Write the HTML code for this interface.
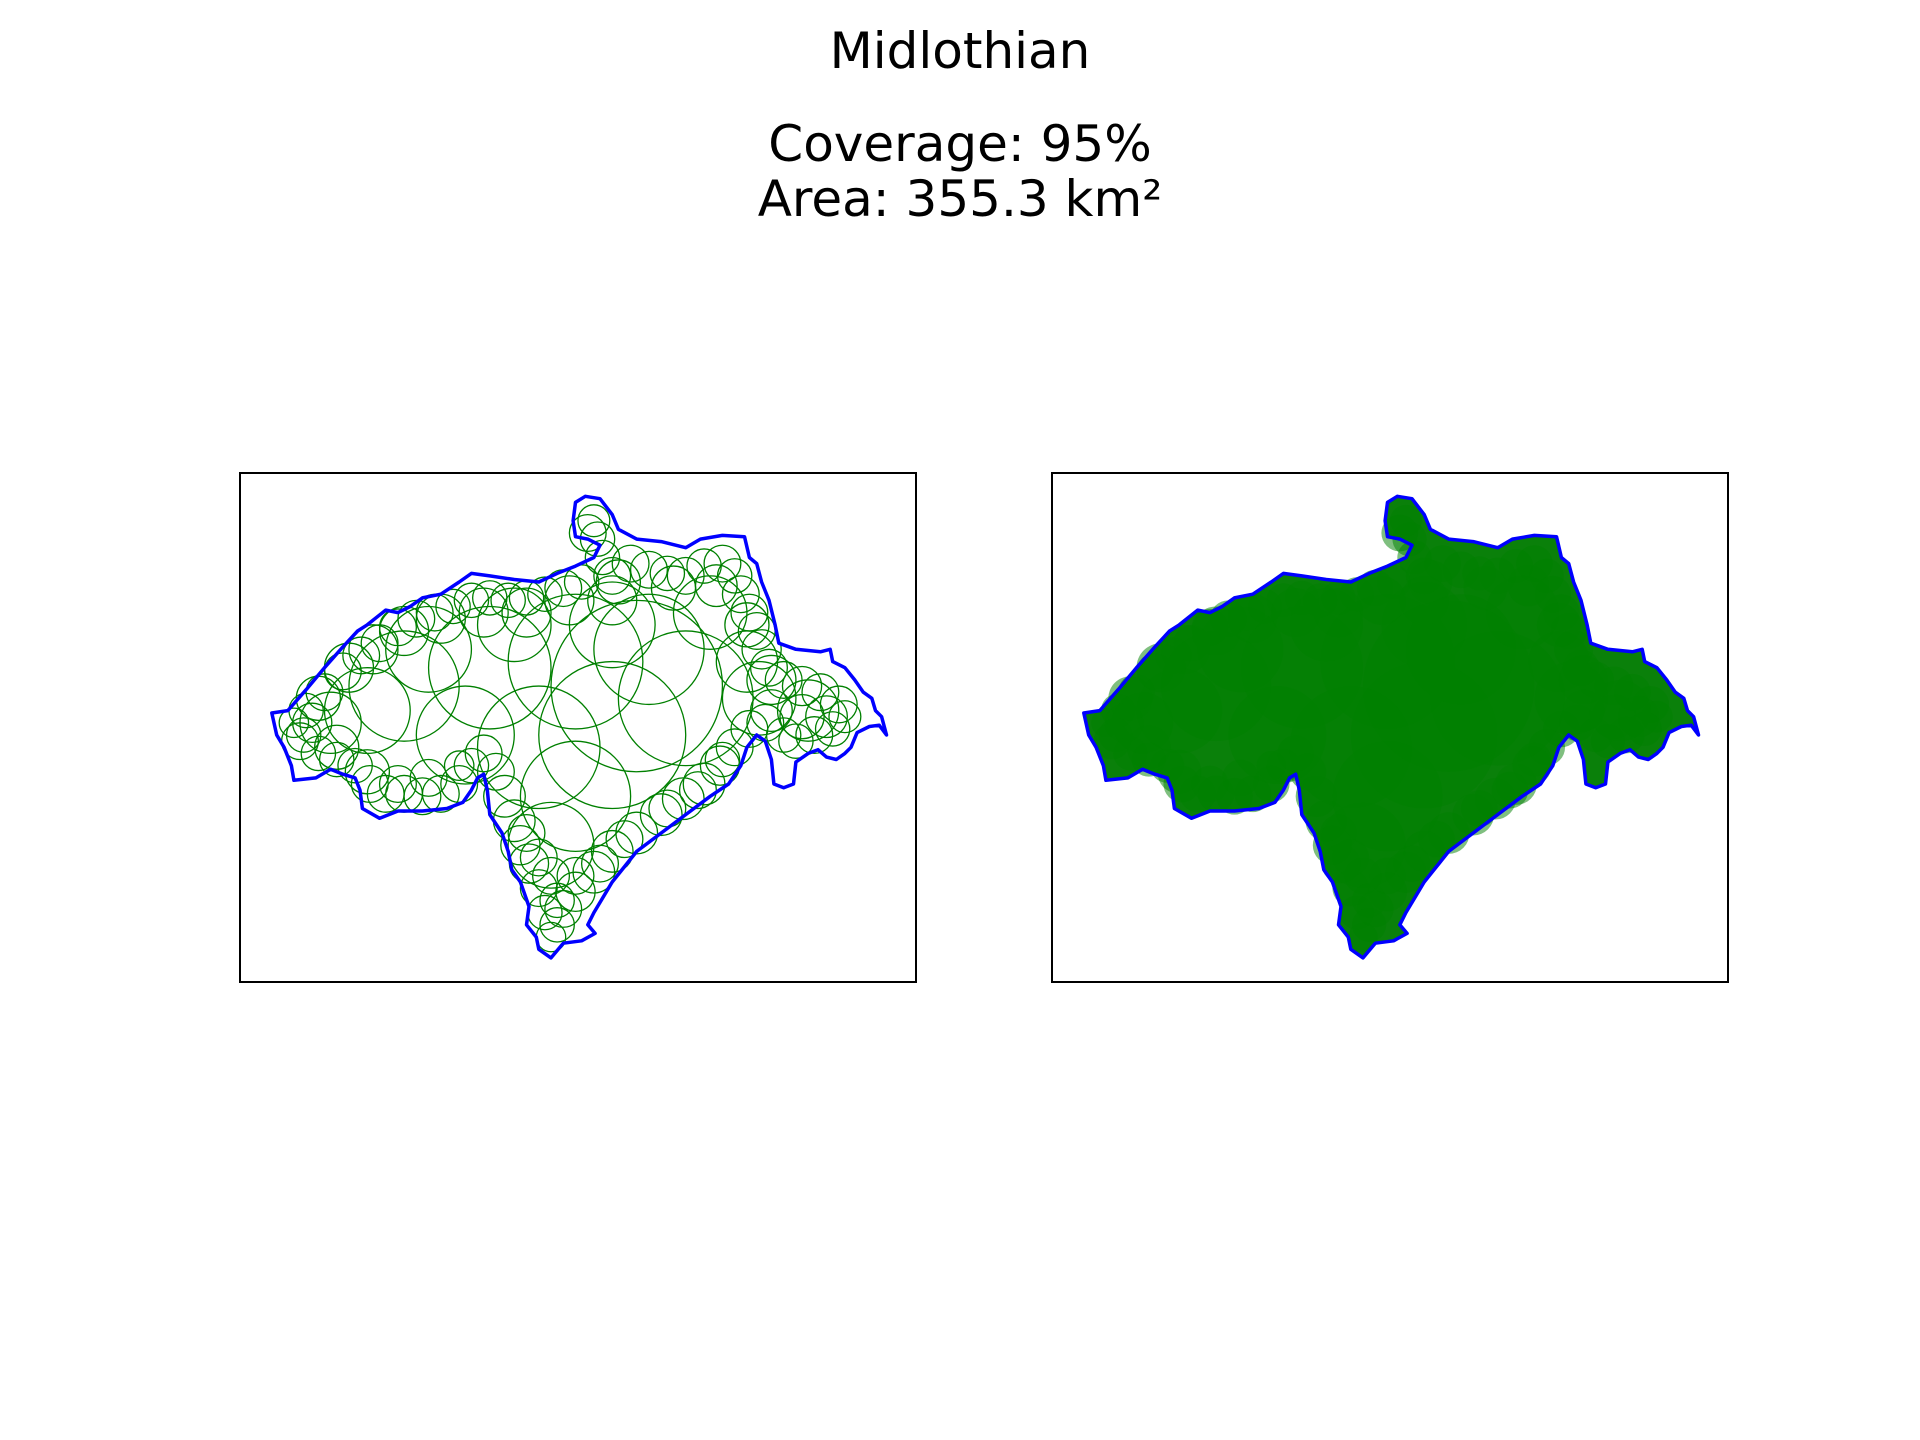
<!DOCTYPE html>
<html><head><meta charset="utf-8"><style>
body{margin:0;background:#fff;}
svg{display:block;}
text{font-family:"DejaVu Sans","Liberation Sans",sans-serif;fill:#000;}
</style></head><body>
<svg id="fig" width="1920" height="1440" viewBox="0 0 1920 1440">
<text x="960" y="68" text-anchor="middle" font-size="50">Midlothian</text>
<text x="960" y="161" text-anchor="middle" font-size="50">Coverage: 95%</text>
<text x="960" y="216" text-anchor="middle" font-size="50">Area: 355.3 km²</text>
<g id="left"></g>
<g id="right"></g>
</svg>
<script>
const boundaryX=[470,478,490,500,505,520,540,560,572,590,608,612,618,622,628,633,636,650,670,678,680,690,698,705,712,715,720,724,718,710,700,695,690,683,675,668,660,650,648,640,632,630,625,618,610,605,595,580,560,540,520,500,485,480,486,475,460,450,440,438,430,432,425,418,415,410,400,398,395,390,385,378,365,345,325,310,296,294,290,280,270,258,240,238,232,226,222,235,250,265,280,292,300,315,325,335,345,360,375,385,400,420,440,455,470,485,490,480,470,468];
const boundaryY=[410,405,407,420,432,440,442,447,440,437,438,455,460,475,490,510,525,530,532,530,540,545,555,565,570,580,585,600,592,593,598,610,615,620,618,612,615,622,640,643,640,620,605,600,610,625,640,650,665,680,695,720,745,755,762,768,770,782,775,765,755,740,720,710,695,680,665,645,632,635,645,655,660,662,662,668,660,645,635,632,628,635,637,625,610,600,582,580,563,545,528,515,510,498,500,495,488,485,475,468,470,473,475,468,462,455,445,440,438,425];
const circleX=[485,488,492,500,515,530,545,560,575,590,600,605,612,618,622,628,640,655,670,685,690,680,665,650,640,625,612,600,588,575,558,540,520,500,485,470,460,455,450,445,440,432,425,420,412,405,395,385,375,360,345,330,315,302,290,275,260,248,240,250,265,280,295,310,325,340,355,370,385,400,415,430,445,460,475,330,400,470,530,560,500,440,380,300,580,620,470,450,520,350,420,500,270,610,660,480,505,550,585,610,630,675,655,630,590,570,545,510,490,470,455,450,440,430,375,350,325,300,275,255,245,260,285,305,330,360,395,430,465,500];
const circleY=[425,440,455,470,460,465,468,470,462,460,470,485,500,515,530,545,555,560,565,575,585,595,600,605,600,590,595,610,625,640,652,665,680,695,712,728,742,755,765,745,725,705,690,670,650,630,615,625,640,648,650,648,648,640,625,620,615,600,590,580,565,548,535,525,512,505,500,495,490,488,490,488,485,480,475,560,545,540,530,570,600,610,600,580,500,570,650,690,560,530,510,510,590,540,580,435,475,480,478,510,555,585,585,580,620,645,660,685,705,715,735,715,700,680,625,635,640,630,610,590,605,570,545,530,515,505,500,500,490,490];
const circleR=[13,14,14,15,15,15,14,15,14,15,14,15,15,15,16,15,15,16,15,15,13,14,15,14,14,15,15,15,16,17,17,17,17,17,17,16,15,14,12,14,15,16,16,17,17,15,15,14,15,15,15,15,15,15,14,14,14,14,12,14,15,15,15,15,15,15,15,14,14,14,14,14,14,15,14,45,50,55,45,55,60,50,40,35,30,30,45,35,70,35,30,35,25,25,25,15,18,18,17,18,20,17,18,17,14,15,15,15,15,15,14,15,15,15,12,15,15,18,18,16,15,18,20,20,20,20,20,20,20,20];
const NS='http://www.w3.org/2000/svg';
const S=1920/1568;
function panel(gid,x0,filled){
  const g=document.getElementById(gid);
  const px=v=>x0+(v-196)*S, py=v=>473+(v-386)*S;
  const frame=document.createElementNS(NS,'rect');
  
  
  frame.setAttribute('x',x0);frame.setAttribute('y',473);frame.setAttribute('width',676);frame.setAttribute('height',509);
  frame.setAttribute('fill','none');frame.setAttribute('stroke','#000');frame.setAttribute('stroke-width','2');
  g.appendChild(frame);
  const pts=boundaryX.map((v,i)=>px(v).toFixed(1)+','+py(boundaryY[i]).toFixed(1)).join(' ');
  if(filled){
    const f=document.createElementNS(NS,'polygon');
    
    
    f.setAttribute('points',pts);f.setAttribute('fill','#0a800a');
    g.appendChild(f);
  }
  const cg=document.createElementNS(NS,'g');
  g.appendChild(cg);
  circleX.forEach((cx,i)=>{
    const c=document.createElementNS(NS,'circle');
    
    
    c.setAttribute('cx',px(cx));c.setAttribute('cy',py(circleY[i]));c.setAttribute('r',circleR[i]*S);
    if(filled){c.setAttribute('fill','#008000');c.setAttribute('fill-opacity','0.5');c.setAttribute('stroke','none');}
    else{c.setAttribute('fill','none');c.setAttribute('stroke','#008000');c.setAttribute('stroke-width','1.3');}
    cg.appendChild(c);
  });
  const b=document.createElementNS(NS,'polygon');
  
  
  b.setAttribute('points',pts);b.setAttribute('fill','none');b.setAttribute('stroke','#0000ff');b.setAttribute('stroke-width','3.5');b.setAttribute('stroke-linejoin','round');
  g.appendChild(b);
}
panel('left',240,false);
panel('right',1052,true);
</script>
</body></html>
